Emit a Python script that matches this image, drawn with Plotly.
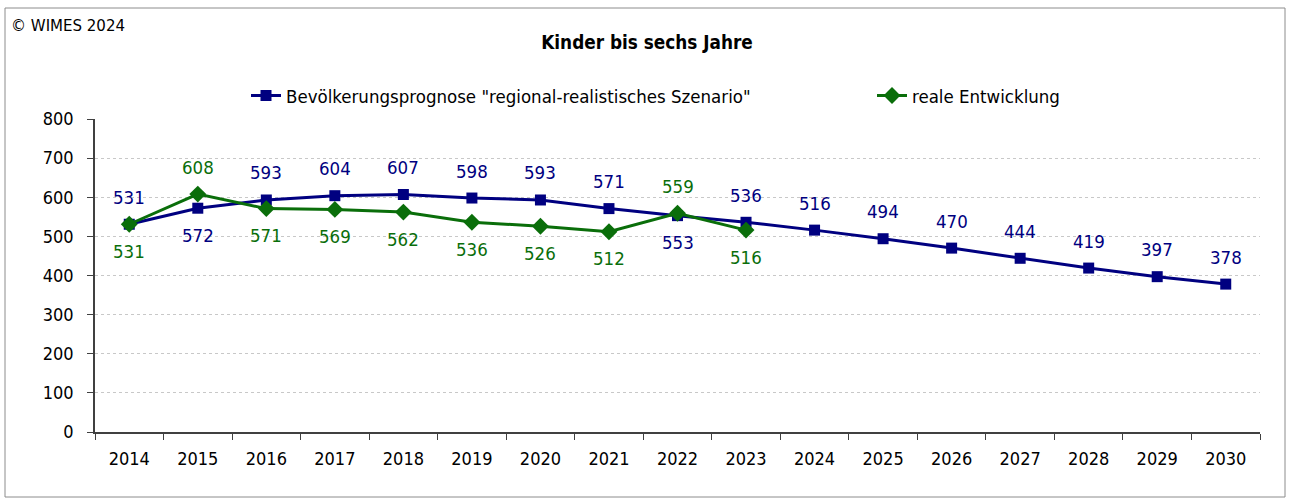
import plotly.graph_objects as go

years = [str(y) for y in range(2014, 2031)]
prognose = [531, 572, 593, 604, 607, 598, 593, 571, 553, 536, 516, 494, 470, 444, 419, 397, 378]
real_years = [str(y) for y in range(2014, 2024)]
real = [531, 608, 571, 569, 562, 536, 526, 512, 559, 516]
# label placement: +1 above, -1 below
prog_pos = [1, -1, 1, 1, 1, 1, 1, 1, -1, 1, 1, 1, 1, 1, 1, 1, 1]
real_pos = [-1, 1, -1, -1, -1, -1, -1, -1, 1, -1]

NAVY = "#000080"
GREEN = "#0A6E0A"
FONT = "DejaVu Sans Condensed, DejaVu Sans, sans-serif"

fig = go.Figure()
fig.add_trace(go.Scatter(
    x=years, y=prognose, mode="lines+markers",
    name='Bevölkerungsprognose "regional-realistisches Szenario"',
    line=dict(color=NAVY, width=3),
    marker=dict(symbol="square", size=11, color=NAVY),
    legend="legend",
))
fig.add_trace(go.Scatter(
    x=real_years, y=real, mode="lines+markers",
    name="reale Entwicklung",
    line=dict(color=GREEN, width=3),
    marker=dict(symbol="diamond", size=13, color=GREEN),
    legend="legend2",
))

annotations = []
for i, (v, p) in enumerate(zip(prognose, prog_pos)):
    annotations.append(dict(x=i, y=v, xref="x", yref="y", text=str(v), showarrow=False,
                            yshift=27 * p, font=dict(color=NAVY, size=18.5, family=FONT)))
for i, (v, p) in enumerate(zip(real, real_pos)):
    annotations.append(dict(x=i, y=v, xref="x", yref="y", text=str(v), showarrow=False,
                            yshift=27 * p, font=dict(color=GREEN, size=18.5, family=FONT)))

L, R, T, B = 95, 30, 119, 67
W, H = 1290, 499
pw, ph = W - L - R, H - T - B
def px(xp): return (xp - L) / pw
def py(yp): return (H - B - yp) / ph

annotations.append(dict(x=px(9), y=py(25), xref="paper", yref="paper", text="© WIMES 2024",
                        showarrow=False, xanchor="left", yanchor="middle",
                        font=dict(size=16.7, color="black", family=FONT)))

legfont = dict(size=18.5, family=FONT, color="black")
fig.update_layout(
    width=W, height=H,
    margin=dict(l=L, r=R, t=T, b=B, autoexpand=False),
    paper_bgcolor="white", plot_bgcolor="white",
    font=dict(family=FONT, color="black", size=18),
    title=dict(text="<b>Kinder bis sechs Jahre</b>", x=647 / W, xanchor="center",
               y=1 - 42 / H, yanchor="middle", font=dict(size=18.8, family=FONT, color="black")),
    showlegend=True,
    legend=dict(orientation="h", x=px(246), xanchor="left", y=py(96), yanchor="middle",
                font=legfont, bgcolor="rgba(0,0,0,0)"),
    legend2=dict(orientation="h", x=px(872), xanchor="left", y=py(96), yanchor="middle",
                 font=legfont, bgcolor="rgba(0,0,0,0)"),
    annotations=annotations,
    shapes=[dict(type="rect", xref="paper", yref="paper",
                 x0=px(5), x1=px(1285), y0=py(497), y1=py(8),
                 line=dict(color="#8c8c8c", width=1), fillcolor="rgba(0,0,0,0)", layer="below")],
)
fig.update_xaxes(type="category", range=[-0.5, 16.5], tickson="boundaries", ticks="outside", ticklen=6,
                 tickcolor="#404040", showline=True, linecolor="#404040", linewidth=1.5,
                 showgrid=False, ticklabelstandoff=10, tickangle=0, tickfont=dict(size=18, family=FONT))
fig.update_yaxes(range=[0, 800], dtick=100, ticks="outside", ticklen=6, tickcolor="#404040",
                 showline=True, linecolor="#404040", linewidth=1.5,
                 showgrid=True, gridcolor="#c8c8c8", griddash="dot", gridwidth=1,
                 zeroline=False, ticklabelstandoff=10, tickfont=dict(size=18, family=FONT))

fig.write_html("out.html", config={"displayModeBar": False},
               post_script="document.body.style.margin='0';document.body.style.overflow='hidden';")
